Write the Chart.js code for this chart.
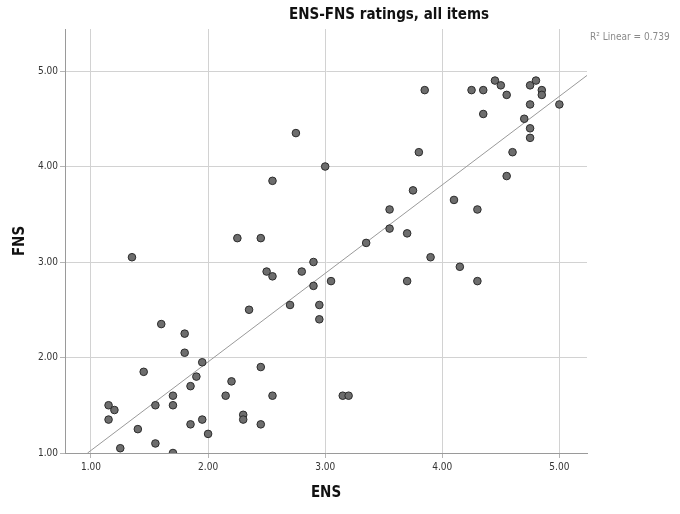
<!DOCTYPE html>
<html>
<head>
<meta charset="utf-8">
<script src="https://cdn.jsdelivr.net/npm/chart.js@4/dist/chart.umd.min.js"></script>
<style>
  html, body { margin: 0; padding: 0; background: #fff; }
  #wrap { width: 680px; height: 514px; }
</style>
</head>
<body>
<div id="wrap"><canvas id="c" width="680" height="514"></canvas></div>
<script>
const ens = [2.75, 3.00, 2.55, 2.25, 2.45, 3.85, 4.25, 4.35, 4.45, 4.50,
             4.55, 4.75, 4.80, 4.85, 4.85, 5.00, 4.75, 4.35, 4.70, 4.75,
             4.75, 3.80, 4.60, 4.55, 3.75, 4.10, 3.55, 4.30, 3.55, 3.70,
             3.35, 3.90, 4.15, 3.70, 4.30, 3.05, 3.15, 3.20, 1.35, 2.90,
             2.50, 2.55, 2.80, 2.90, 2.70, 2.95, 2.95, 2.35, 1.60, 1.80,
             1.80, 1.95, 2.45, 1.45, 1.90, 2.20, 1.85, 1.70, 2.15, 2.55,
             1.70, 1.55, 1.15, 1.20, 1.15, 2.30, 2.30, 1.95, 1.85, 2.45,
             1.40, 2.00, 1.55, 1.25, 1.70];
const fns = [4.35, 4.00, 3.85, 3.25, 3.25, 4.80, 4.80, 4.80, 4.90, 4.85,
             4.75, 4.85, 4.90, 4.80, 4.75, 4.65, 4.65, 4.55, 4.50, 4.40,
             4.30, 4.15, 4.15, 3.90, 3.75, 3.65, 3.55, 3.55, 3.35, 3.30,
             3.20, 3.05, 2.95, 2.80, 2.80, 2.80, 1.60, 1.60, 3.05, 3.00,
             2.90, 2.85, 2.90, 2.75, 2.55, 2.55, 2.40, 2.50, 2.35, 2.25,
             2.05, 1.95, 1.90, 1.85, 1.80, 1.75, 1.70, 1.60, 1.60, 1.60,
             1.50, 1.50, 1.50, 1.45, 1.35, 1.40, 1.35, 1.35, 1.30, 1.30,
             1.25, 1.20, 1.10, 1.05, 1.00];
const tickValues = [1, 2, 3, 4, 5];
const fitIntercept = 0.10;
const fitSlope = 0.927;
const fitRange = [0.97, 5.24];
const r2Label = 'R\u00B2 Linear = 0.739';
const titleText = 'ENS-FNS ratings, all items';
const xTitle = 'ENS';
const yTitle = 'FNS';

const points = ens.map((x, i) => ({ x: x, y: fns[i] }));
const fitLine = fitRange.map(x => ({ x: x, y: fitIntercept + fitSlope * x }));

const FONT = '"Liberation Sans Narrow", "DejaVu Sans Condensed", "Liberation Sans", sans-serif';

const textPlugin = {
  id: 'texts',
  afterDraw(chart) {
    const ctx = chart.ctx;
    ctx.save();
    ctx.font = 'bold 15px ' + FONT;
    ctx.fillStyle = '#111';
    ctx.textAlign = 'center';
    ctx.textBaseline = 'middle';
    ctx.fillText(titleText, 389, 15);
    ctx.font = '10px ' + FONT;
    ctx.fillStyle = '#8a8a8a';
    ctx.textAlign = 'left';
    ctx.fillText(r2Label, chart.chartArea.right + 3, 37);
    ctx.restore();
  }
};

new Chart(document.getElementById('c'), {
  type: 'scatter',
  data: {
    datasets: [
      {
        data: points,
        backgroundColor: '#6d6d6d',
        borderColor: '#2b2b2b',
        borderWidth: 1,
        pointRadius: 3.8,
        pointHoverRadius: 3.8,
        order: 1
      },
      {
        data: fitLine,
        showLine: true,
        borderColor: '#9a9a9a',
        borderWidth: 1,
        pointRadius: 0,
        fill: false,
        order: 2
      }
    ]
  },
  options: {
    responsive: false,
    animation: false,
    events: [],
    layout: { padding: { left: 0, right: 93, top: 29, bottom: 0 } },
    plugins: {
      legend: { display: false },
      tooltip: { enabled: false },
      title: { display: false }
    },
    scales: {
      x: {
        type: 'linear',
        min: 0.778,
        max: 5.236,
        afterBuildTicks(scale) { scale.ticks = tickValues.map(v => ({ value: v })); },
        afterFit(scale) { scale.height = 61; },
        ticks: {
          callback: v => Number(v).toFixed(2),
          color: '#333',
          font: { family: FONT, size: 10 },
          padding: 3,
          maxRotation: 0
        },
        grid: { color: '#d2d2d2', lineWidth: 1, tickLength: 5, tickColor: '#b5b5b5' },
        border: { color: '#9a9a9a', width: 1 },
        title: {
          display: true,
          text: xTitle,
          color: '#111',
          font: { family: FONT, size: 15, weight: 'bold' },
          padding: { top: 0, bottom: 12 }
        }
      },
      y: {
        type: 'linear',
        min: 1.0,
        max: 5.44,
        afterBuildTicks(scale) { scale.ticks = tickValues.map(v => ({ value: v })); },
        afterFit(scale) { scale.width = 65; },
        ticks: {
          callback: v => Number(v).toFixed(2),
          color: '#333',
          font: { family: FONT, size: 10 },
          padding: 2
        },
        grid: { color: '#d2d2d2', lineWidth: 1, tickLength: 5, tickColor: '#b5b5b5' },
        border: { color: '#9a9a9a', width: 1 },
        title: {
          display: true,
          text: yTitle,
          color: '#111',
          font: { family: FONT, size: 15, weight: 'bold' },
          padding: { top: 11, bottom: 0 }
        }
      }
    }
  },
  plugins: [textPlugin]
});
</script>
</body>
</html>
